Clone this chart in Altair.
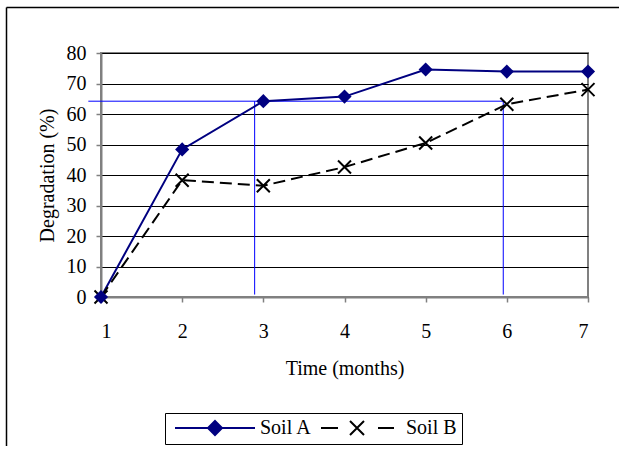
import altair as alt
import pandas as pd

# ---- data ----
months = [1, 2, 3, 4, 5, 6, 7]
soil_a = [0, 48.4, 64.2, 65.7, 74.6, 73.9, 73.9]
soil_b = [0, 38.3, 36.5, 42.6, 50.5, 63.2, 68.0]
series_names = ["Soil A", "Soil B"]
y_ticks = [0, 10, 20, 30, 40, 50, 60, 70, 80]

# blue guide lines (64 % reached)
guide_level = 64.2
guide_x_start = 0.844
guide_months = [2.893, 5.956]
guide_bottom = 0.8

NAVY = "#000080"
FONT = "Liberation Serif"

df = pd.DataFrame({
    "time": months * 2,
    "value": soil_a + soil_b,
    "series": ["Soil A"] * len(months) + ["Soil B"] * len(months),
})
df_a = df[df.series == "Soil A"]
df_b = df[df.series == "Soil B"]

x_enc = alt.X("time:Q",
              scale=alt.Scale(domain=[1, 7], nice=False, zero=False),
              axis=alt.Axis(values=months, title="Time (months)", grid=False,
                            labelPadding=19, titlePadding=17, format="d", labelOverlap=False))
y_enc = alt.Y("value:Q",
              scale=alt.Scale(domain=[0, 80], nice=False),
              axis=alt.Axis(values=y_ticks, title="Degradation (%)", grid=True, tickCount=9,
                            labelPadding=10, titlePadding=9, labelOverlap=False))

# guide lines
h_guide = alt.Chart(pd.DataFrame({"time": [guide_x_start], "time2": [guide_months[1]], "value": [guide_level]})).mark_rule(
    color="#0000FF", strokeWidth=1, clip=False).encode(
    x=x_enc, x2="time2:Q", y=y_enc)
v_guide = alt.Chart(pd.DataFrame({"time": guide_months, "value": [guide_bottom] * 2, "value2": [guide_level] * 2})).mark_rule(
    color="#0000FF", strokeWidth=1).encode(
    x=x_enc, y=y_enc, y2="value2:Q")

line_a = alt.Chart(df_a).mark_line(color=NAVY, strokeWidth=2).encode(x=x_enc, y=y_enc)
pts_a = alt.Chart(df_a).mark_point(shape="diamond", filled=True, size=200, color=NAVY, opacity=1).encode(
    x=x_enc, y=y_enc)

XPATH = "M-1,-1L1,1M-1,1L1,-1"
line_b = alt.Chart(df_b).mark_line(color="black", strokeWidth=2, strokeDash=[12, 6]).encode(x=x_enc, y=y_enc)
pts_b = alt.Chart(df_b).mark_point(shape=XPATH, filled=False, size=169, stroke="black",
                                   strokeWidth=2, opacity=1).encode(x=x_enc, y=y_enc)

# legend-only layer: symbol paths drawn in units of 5 px (symbolSize 100)
PATH_A = "M-1,0L15,0M7,-1.4L8.4,0L7,1.4L5.6,0Z"
PATH_B = "M-1,0L2.4,0M10.4,0L13.6,0M4.8,-1.4L7.6,1.4M4.8,1.4L7.6,-1.4"
leg = alt.Legend(orient="none", legendX=64, legendY=360, direction="horizontal", title=None)
legend_layer = alt.Chart(df).transform_filter("datum.value < -1000").mark_point(
    filled=True, opacity=1, strokeWidth=2).encode(
    x=x_enc, y=y_enc,
    fill=alt.Fill("series:N", scale=alt.Scale(domain=series_names, range=[NAVY, "black"]), legend=leg),
    stroke=alt.Stroke("series:N", scale=alt.Scale(domain=series_names, range=[NAVY, "black"]), legend=leg),
    shape=alt.Shape("series:N", scale=alt.Scale(domain=series_names, range=[PATH_A, PATH_B]), legend=leg),
)

# outer frame (top and left edges visible in the reference)
one = pd.DataFrame({"d": [0]})
frame_top = alt.Chart(one).mark_rule(color="black", strokeWidth=1.5, clip=False).encode(
    x=alt.value(-94.5), x2=alt.value(520), y=alt.value(-45.5))
frame_left = alt.Chart(one).mark_rule(color="black", strokeWidth=1.5, clip=False).encode(
    x=alt.value(-94.5), y=alt.value(-45.5), y2=alt.value(400))

chart = alt.layer(
    h_guide, v_guide, line_a, line_b, pts_b, pts_a, legend_layer, frame_top, frame_left
).properties(
    width=487, height=244,
    autosize=alt.AutoSizeParams(type="none"),
    padding={"left": 101, "top": 53, "right": 31, "bottom": 149},
    background="white",
).configure(
    font=FONT,
).configure_view(
    stroke="#808080", strokeWidth=2,
).configure_axis(
    domainColor="#808080", domainWidth=2,
    tickColor="#808080", tickWidth=1.5, tickSize=5,
    labelFont=FONT, labelFontSize=20, labelColor="black",
    titleFont=FONT, titleFontSize=20, titleFontWeight="normal", titleColor="black",
    gridColor="black", gridWidth=1, gridOpacity=1,
).configure_legend(
    orient="none", legendX=64, legendY=360,
    strokeColor="black", strokeWidth=1, padding=5,
    symbolSize=100, symbolStrokeWidth=2,
    labelFont=FONT, labelFontSize=20, labelColor="black",
    labelOffset=70, columnPadding=4,
)

chart.save("out.html", embed_options={"renderer": "svg", "actions": False})
